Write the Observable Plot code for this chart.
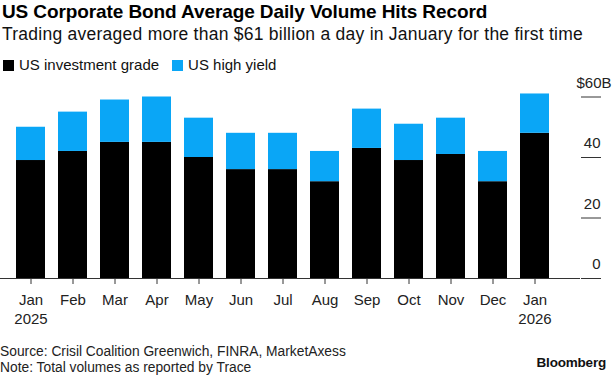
<!DOCTYPE html>
<html>
<head>
<meta charset="utf-8">
<script src="https://cdn.jsdelivr.net/npm/d3@7"></script>
<script src="https://cdn.jsdelivr.net/npm/@observablehq/plot@0.6"></script>
<style>
  html, body { margin: 0; padding: 0; background: #fff; }
  body { width: 613px; height: 375px; position: relative; overflow: hidden; font-family: "Liberation Sans", Arial, sans-serif; color: #000; }
  .title { position: absolute; left: 2px; top: 1px; font-size: 19px; font-weight: bold; line-height: 22px; letter-spacing: -0.1px; white-space: nowrap; }
  .subtitle { position: absolute; left: 2px; top: 24px; font-size: 17.5px; line-height: 20px; letter-spacing: 0.25px; white-space: nowrap; color: #111; }
  .legend { position: absolute; left: 3px; top: 56px; font-size: 15px; line-height: 18px; white-space: nowrap; display: flex; align-items: center; color: #111; }
  .legend .sw { display: inline-block; width: 11px; height: 11px; margin-right: 5px; }
  .legend .item { display: flex; align-items: center; margin-right: 13px; }
  #chart { position: absolute; left: 0; top: 70px; }
  .footer { position: absolute; left: 0; top: 344px; font-size: 13.8px; line-height: 15.5px; color: #222; white-space: nowrap; }
  .logo { position: absolute; right: 7px; top: 355px; font-size: 13.5px; font-weight: bold; letter-spacing: -0.2px; color: #111; }
</style>
</head>
<body>
<div class="title">US Corporate Bond Average Daily Volume Hits Record</div>
<div class="subtitle">Trading averaged more than $61 billion a day in January for the first time</div>
<div class="legend" id="legend"></div>
<div id="chart"></div>
<div class="footer">Source: Crisil Coalition Greenwich, FINRA, MarketAxess<br>Note: Total volumes as reported by Trace</div>
<div class="logo">Bloomberg</div>
<script>
const months = ["2025-01","2025-02","2025-03","2025-04","2025-05","2025-06","2025-07","2025-08","2025-09","2025-10","2025-11","2025-12","2026-01"];
const monthLabels = ["Jan\n2025","Feb","Mar","Apr","May","Jun","Jul","Aug","Sep","Oct","Nov","Dec","Jan\n2026"];
const investmentGrade = [39, 42, 45, 45, 40, 36, 36, 32, 43, 39, 41, 32, 48];
const highYield = [11, 13, 14, 15, 13, 12, 12, 10, 13, 12, 12, 10, 13];
const seriesNames = ["US investment grade", "US high yield"];
const seriesColors = ["#000000", "#0aa6f6"];
const yTicks = [0, 20, 40, 60];
const yTickLabels = ["0", "20", "40", "$60B"];

const data = [];
months.forEach((m, i) => {
  data.push({month: m, series: seriesNames[0], value: investmentGrade[i]});
  data.push({month: m, series: seriesNames[1], value: highYield[i]});
});

const legend = document.getElementById("legend");
seriesNames.forEach((s, i) => {
  const item = document.createElement("span");
  item.className = "item";
  item.innerHTML = `<span class="sw" style="background:${seriesColors[i]}"></span>${s}`;
  legend.appendChild(item);
});

const labelOf = new Map(months.map((m, i) => [m, monthLabels[i]]));

const plot = Plot.plot({
  width: 613,
  height: 272,
  marginLeft: 0,
  marginRight: 33,
  marginTop: 26.5,
  marginBottom: 64,
  style: {fontFamily: "Liberation Sans, Arial, sans-serif", fontSize: "15px", color: "#222", background: "transparent"},
  x: {domain: months, range: [0, 565], paddingInner: 0.31, paddingOuter: 0.373},
  y: {domain: [0, 60]},
  color: {domain: seriesNames, range: seriesColors},
  marks: [
    Plot.barY(data, {x: "month", y: "value", fill: "series"}),
    Plot.ruleY([0], {stroke: "#333", strokeWidth: 1}),
    Plot.axisX({tickSize: 6, tickPadding: 7, stroke: "#333", tickFormat: d => labelOf.get(d), lineHeight: 1.27, fontSize: 15, fill: "#222", label: null}),
    Plot.axisY(yTicks, {anchor: "right", tickSize: 20, stroke: "#333", tickFormat: () => "", label: null}),
    Plot.text(yTicks.slice(0, 3), {y: d => d, text: (d, i) => yTickLabels[i], frameAnchor: "right", textAnchor: "end", dx: 20, dy: -14, fontSize: 15, fill: "#222"}),
    Plot.text([yTicks[3]], {y: d => d, text: () => yTickLabels[3], frameAnchor: "right", textAnchor: "end", dx: 31, dy: -14, fontSize: 15, fill: "#222"})
  ]
});
document.getElementById("chart").appendChild(plot);
</script>
</body>
</html>
